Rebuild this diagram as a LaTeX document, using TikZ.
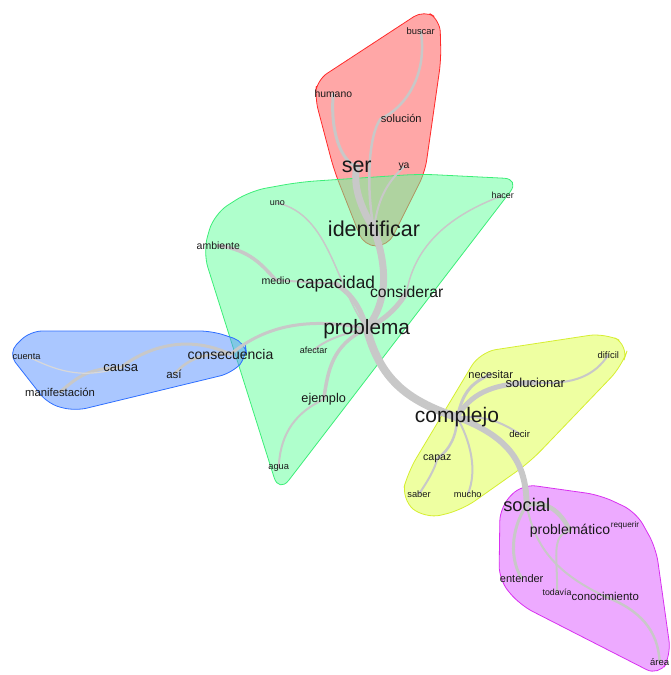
\documentclass[tikz,border=0pt]{standalone}
\usepackage{fontspec}
\setmainfont{Liberation Sans}
\definecolor{edgegray}{HTML}{C8C8C8}
\definecolor{edgelight}{HTML}{D8D8D8}
\definecolor{redfill}{HTML}{FF5050}
\definecolor{reddraw}{HTML}{FF2A2A}
\definecolor{greenfill}{HTML}{60FF9A}
\definecolor{greendraw}{HTML}{3CEE78}
\definecolor{bluefill}{HTML}{5590FF}
\definecolor{bluedraw}{HTML}{2F6FFF}
\definecolor{yellowfill}{HTML}{DDFF44}
\definecolor{yellowdraw}{HTML}{D6EE30}
\definecolor{magfill}{HTML}{DC55FF}
\definecolor{magdraw}{HTML}{D830F0}
\pgfdeclarelayer{hulls}
\pgfdeclarelayer{edges}
\pgfsetlayers{hulls,edges,main}
\begin{document}
\begin{tikzpicture}[x=1pt,y=-1pt,
  edge/.style={draw=edgegray, line cap=round},
  lbl/.style={anchor=base, inner sep=0pt, text=black!90},
  fs/.style={font=\fontsize{#1}{#1}\selectfont},
  hull/.style={rounded corners=12pt, line width=0.8pt, fill opacity=0.5}]
\useasboundingbox (0,0) rectangle (671,675);

% ---------- labels ----------
\node[lbl,fs=9.4]  (buscar) at (420.7,34.3) {buscar};
\node[lbl,fs=10.4] (humano) at (333.3,97.3) {humano};
\node[lbl,fs=11.1] (solucion) at (401.3,122.7) {solución};
\node[lbl,fs=21.5] (ser) at (356.7,172.7) {ser};
\node[lbl,fs=10.4] (ya) at (404,168.5) {ya};
\node[lbl,fs=9]    (uno) at (277.3,205.3) {uno};
\node[lbl,fs=8.9]  (hacer) at (502.7,198.7) {hacer};
\node[lbl,fs=21.5] (identificar) at (374,236.7) {identificar};
\node[lbl,fs=10.5] (ambiente) at (218.3,249.3) {ambiente};
\node[lbl,fs=10.6] (medio) at (276,284) {medio};
\node[lbl,fs=17.2] (capacidad) at (335.7,288.3) {capacidad};
\node[lbl,fs=15.7] (considerar) at (406.7,297.3) {considerar};
\node[lbl,fs=20.8] (problema) at (366.7,334) {problema};
\node[lbl,fs=14]   (consecuencia) at (230.5,359.3) {consecuencia};
\node[lbl,fs=9]    (afectar) at (313.7,353.3) {afectar};
\node[lbl,fs=9.3]  (cuenta) at (26.7,359) {cuenta};
\node[lbl,fs=13]   (causa) at (120.7,371) {causa};
\node[lbl,fs=11.5] (asi) at (174,378.7) {así};
\node[lbl,fs=11.3] (manifestacion) at (60,396) {manifestación};
\node[lbl,fs=12.7] (ejemplo) at (323.7,402.7) {ejemplo};
\node[lbl,fs=9.3]  (agua) at (278.7,469) {agua};
\node[lbl,fs=11]   (necesitar) at (490.7,378.3) {necesitar};
\node[lbl,fs=13]   (solucionar) at (535.3,387.3) {solucionar};
\node[lbl,fs=9.4]  (dificil) at (608.3,358.3) {difícil};
\node[lbl,fs=21]   (complejo) at (457,422.7) {complejo};
\node[lbl,fs=9.5]  (decir) at (519.7,437.3) {decir};
\node[lbl,fs=10.6] (capaz) at (437.3,460) {capaz};
\node[lbl,fs=9.3]  (saber) at (419,497.3) {saber};
\node[lbl,fs=9.2]  (mucho) at (467.7,497.7) {mucho};
\node[lbl,fs=18.3] (social) at (526.7,511.7) {social};
\node[lbl,fs=14]   (problematico) at (570,534.3) {problemático};
\node[lbl,fs=8.2]  (requerir) at (625,527.7) {requerir};
\node[lbl,fs=11]   (entender) at (521.7,582.3) {entender};
\node[lbl,fs=8.8]  (todavia) at (557,595) {todavía};
\node[lbl,fs=11.4] (conocimiento) at (605.3,600.7) {conocimiento};
\node[lbl,fs=9.5]  (area) at (659.7,665.7) {área};

% ---------- hulls ----------
\begin{pgfonlayer}{hulls}
\filldraw[hull, fill=redfill, draw=reddraw]
  (317,80) -- (424,10) -- (440,20) -- (441,60) -- (425,172) -- (388,246)
  -- (364,246) -- (334,170) -- (315,98) -- cycle;
\filldraw[hull, fill=greenfill, draw=greendraw, rounded corners=16pt]
  (203,252) -- (214,214) -- (250,191) -- (300,182) -- (420,174)
  -- (520,179) -- (279,493) -- cycle;
\filldraw[hull, fill=bluefill, draw=bluedraw]
  (8,353) -- (30,331) -- (212,331) -- (245,342) -- (247,357) -- (232,373)
  -- (75,411) -- (48,404) -- cycle;
\filldraw[hull, fill=yellowfill, draw=yellowdraw, rounded corners=16pt]
  (480,352) -- (605,333) -- (629,345) -- (622,366) -- (530,462) -- (462,510)
  -- (425,519) -- (401,499) -- (408,472) -- cycle;
\filldraw[hull, fill=magfill, draw=magdraw, rounded corners=14pt]
  (500,507) -- (522,484) -- (600,495) -- (636,512) -- (656,548) -- (671,655)
  -- (659,676) -- (520,605) -- (499,580) -- cycle;
\end{pgfonlayer}

% ---------- edges ----------
\begin{pgfonlayer}{edges}
\draw[edge, line width=7pt] (ser.center) .. controls (352,190) and (365,215) .. (identificar.center);
\draw[edge, line width=7pt] (identificar.center) .. controls (383,255) and (393,295) .. (problema.center);
\draw[edge, line width=8pt] (problema.center) .. controls (380,378) and (405,400) .. (complejo.center);
\draw[edge, line width=6pt] (complejo.center) .. controls (512,438) and (526,465) .. (social.center);
\draw[edge, line width=3pt] (humano.center) .. controls (330,130) and (340,160) .. (ser.center);
\draw[edge, line width=2.5pt] (buscar.center) .. controls (428,75) and (405,108) .. (solucion.west);
\draw[edge, line width=2.5pt] (solucion.west) .. controls (368,135) and (366,190) .. (identificar.center);
\draw[edge, line width=2pt] (ya.center) .. controls (390,180) and (378,195) .. (identificar.center);
\draw[edge, line width=1.5pt] (uno.center) .. controls (330,215) and (335,285) .. (problema.center);
\draw[edge, line width=1.5pt] (hacer.center) .. controls (450,215) and (415,245) .. (considerar.center);
\draw[edge, line width=5pt] (considerar.center) .. controls (400,305) and (385,320) .. (problema.center);
\draw[edge, line width=3.5pt] (ambiente.center) .. controls (250,250) and (262,265) .. (medio.center);
\draw[edge, line width=2pt] (medio.center) -- (capacidad.center);
\draw[edge, line width=5pt] (capacidad.center) .. controls (350,293) and (360,305) .. (problema.center);
\draw[edge, line width=3pt] (consecuencia.center) .. controls (260,330) and (300,315) .. (problema.center);
\draw[edge, line width=3pt] (consecuencia.center) .. controls (190,335) and (150,345) .. (causa.center);
\draw[edge, line width=3pt] (causa.center) .. controls (85,368) and (75,380) .. (manifestacion.center);
\draw[draw=edgelight, line cap=round, line width=1.2pt] (cuenta.center) .. controls (55,370) and (80,380) .. (causa.center);
\draw[edge, line width=2.5pt] (asi.center) .. controls (185,362) and (200,352) .. (consecuencia.center);
\draw[edge, line width=2pt] (afectar.center) .. controls (325,340) and (345,333) .. (problema.center);
\draw[edge, line width=3.5pt] (ejemplo.center) .. controls (328,370) and (332,345) .. (problema.center);
\draw[edge, line width=2pt] (ejemplo.center) .. controls (290,415) and (280,440) .. (agua.center);
\draw[edge, line width=3pt] (complejo.center) .. controls (462,400) and (465,385) .. (necesitar.center);
\draw[edge, line width=5pt] (complejo.center) .. controls (470,395) and (490,383) .. (solucionar.center);
\draw[edge, line width=2pt] (solucionar.center) .. controls (575,385) and (595,375) .. (dificil.center);
\draw[edge, line width=2pt] (complejo.center) .. controls (490,415) and (505,425) .. (decir.center);
\draw[edge, line width=2.5pt] (complejo.center) .. controls (457,435) and (450,450) .. (capaz.center);
\draw[edge, line width=2pt] (capaz.center) .. controls (435,470) and (425,485) .. (saber.center);
\draw[edge, line width=2pt] (complejo.center) .. controls (470,440) and (478,470) .. (mucho.center);
\draw[edge, line width=4.5pt] (social.center) .. controls (545,500) and (560,510) .. (problematico.center);
\draw[edge, line width=3pt] (social.center) .. controls (510,530) and (510,560) .. (entender.center);
\draw[edge, line width=2pt] (social.center) .. controls (535,550) and (560,575) .. (conocimiento.center);
\draw[edge, line width=2pt] (problematico.center) .. controls (550,535) and (558,560) .. (todavia.center);
\draw[edge, line width=2.5pt] (conocimiento.center) .. controls (640,610) and (658,630) .. (area.center);
\end{pgfonlayer}
\end{tikzpicture}
\end{document}
